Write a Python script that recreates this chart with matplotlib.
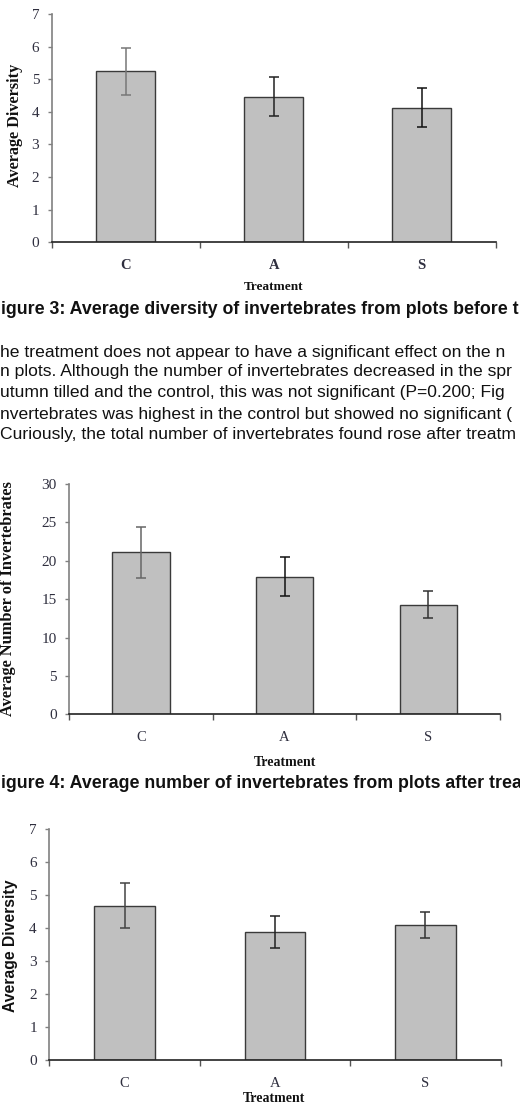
import matplotlib
matplotlib.use("Agg")
import matplotlib.pyplot as plt

# ---- data ----
categories = ["C", "A", "S"]

fig3_means = [5.25, 4.47, 4.12]
fig3_err = [0.72, 0.60, 0.60]
fig3_yticks = [0, 1, 2, 3, 4, 5, 6, 7]

fig4_means = [21.1, 17.9, 14.3]
fig4_err = [3.3, 2.55, 1.75]
fig4_yticks = [0, 5, 10, 15, 20, 25, 30]

fig5_means = [4.68, 3.88, 4.10]
fig5_err = [0.68, 0.48, 0.40]
fig5_yticks = [0, 1, 2, 3, 4, 5, 6, 7]

# visible (cropped) portions of the page text
caption3 = "igure 3: Average diversity of invertebrates from plots before t"
caption4 = "igure 4: Average number of invertebrates from plots after trea"
body_lines = [
    "he treatment does not appear to have a significant effect on the n",
    "n plots. Although the number of invertebrates decreased in the spr",
    "utumn tilled and the control, this was not significant (P=0.200; Fig",
    "nvertebrates was highest in the control but showed no significant (",
    "Curiously, the total number of invertebrates found rose after treatm",
]

W, H = 520, 1106
fig = plt.figure(figsize=(W / 100, H / 100), dpi=100)
fig.patch.set_facecolor("white")

SERIF = ["Liberation Serif", "DejaVu Serif"]
SANS = ["Liberation Sans", "DejaVu Sans"]
TICKC = "#2f2f3f"


def fx(px):
    return px / W


def fy(py):
    return 1 - py / H


def make_chart(rect, means, errs, yticks, ymax, cat_bold, ecolors):
    ax = fig.add_axes(rect)
    x = list(range(len(categories)))
    ax.bar(x, means, width=0.4, color="#c0c0c0", edgecolor="#3a3a3a", linewidth=1.0, zorder=2)
    for xi, m, e, c in zip(x, means, errs, ecolors):
        ax.errorbar(xi, m, yerr=e, fmt="none", ecolor=c, elinewidth=1.1,
                    capsize=3.5, capthick=1.1, zorder=3)
    ax.set_xlim(-0.5, len(categories) - 0.5)
    ax.set_ylim(0, ymax)
    for s in ["top", "right"]:
        ax.spines[s].set_visible(False)
    ax.spines["left"].set_color("#808080")
    ax.spines["left"].set_linewidth(1.2)
    ax.spines["bottom"].set_color("#222222")
    ax.spines["bottom"].set_linewidth(1.2)
    ax.set_yticks(yticks)
    ax.set_yticklabels([str(t) for t in yticks], fontfamily=SERIF, fontsize=11, color=TICKC)
    ax.tick_params(axis="y", length=3, width=1, color="#808080", pad=6)
    ax.set_xticks(x)
    ax.set_xticklabels(categories, fontfamily=SERIF, fontsize=10.5, color=TICKC,
                       fontweight="bold" if cat_bold else "normal")
    ax.tick_params(axis="x", which="major", length=0, pad=12)
    ax.set_xticks([i - 0.5 for i in range(len(categories) + 1)], minor=True)
    ax.tick_params(axis="x", which="minor", length=4, width=1, color="#555555")
    return ax


# Chart 1 (Figure 3)
make_chart([fx(51.7), fy(242.3), fx(444), 228.3 / H], fig3_means, fig3_err, fig3_yticks, 7,
           True, ["#777777", "#222222", "#111111"])
fig.text(fx(15), fy(125.5), "Average Diversity", rotation=90, ha="center", va="center",
         fontfamily=SERIF, fontweight="bold", fontsize=11.7, color="#111111")
fig.text(fx(274), fy(287), "Treatment", ha="center", va="center",
         fontfamily=SERIF, fontweight="bold", fontsize=9.5, color="#111111")

# Chart 2 (Figure 4)
make_chart([fx(69.3), fy(714.3), fx(430.7), 230.3 / H], fig4_means, fig4_err, fig4_yticks, 30,
           False, ["#666666", "#111111", "#333333"])
fig.text(fx(8), fy(599), "Average Number of Invertebrates", rotation=90, ha="center", va="center",
         fontfamily=SERIF, fontweight="bold", fontsize=11.8, color="#111111")
fig.text(fx(285.5), fy(762), "Treatment", ha="center", va="center",
         fontfamily=SERIF, fontweight="bold", fontsize=10, color="#111111")

# Chart 3 (after treatment diversity)
make_chart([fx(49.3), fy(1060), fx(451.4), 230.7 / H], fig5_means, fig5_err, fig5_yticks, 7,
           False, ["#444444", "#222222", "#333333"])
fig.text(fx(11), fy(946), "Average Diversity", rotation=90, ha="center", va="center",
         fontfamily=SANS, fontweight="bold", fontsize=11.3, color="#111111")
fig.text(fx(274), fy(1092), "Treatment", ha="center", va="top",
         fontfamily=SERIF, fontweight="bold", fontsize=10, color="#111111")

# Captions and body text
fig.text(fx(1), fy(310), caption3, ha="left", va="center",
         fontfamily=SANS, fontweight="bold", fontsize=12.8, color="#111111")
body_y = [352, 372, 392, 414, 434]
for yy, line in zip(body_y, body_lines):
    fig.text(fx(0), fy(yy), line, ha="left", va="center",
             fontfamily=SANS, fontsize=12.6, color="#111111")
fig.text(fx(1), fy(783), caption4, ha="left", va="center",
         fontfamily=SANS, fontweight="bold", fontsize=12.8, color="#111111")

fig.savefig("out.png", dpi=100, facecolor="white")
